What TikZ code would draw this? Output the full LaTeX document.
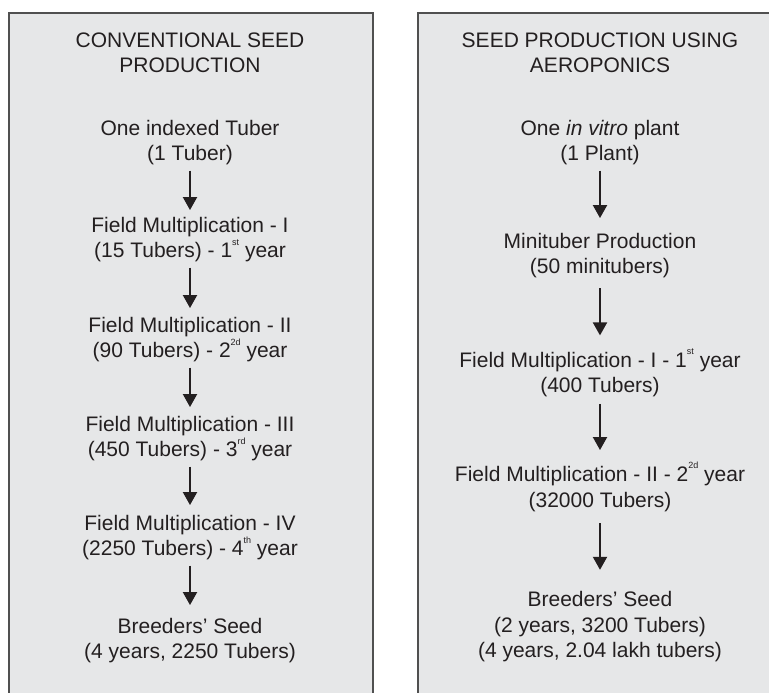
\documentclass[tikz,border=0pt]{standalone}
\usepackage{fontspec}
\setmainfont{Liberation Sans}
\usepackage{tikz}
\usetikzlibrary{arrows.meta}

\definecolor{panelgray}{HTML}{E6E7E8}
\definecolor{inkgray}{HTML}{231F20}
\definecolor{framegray}{HTML}{505050}

\newcommand{\ordsup}[1]{\raisebox{1.15ex}{\fontsize{9}{9}\selectfont #1}}

\tikzset{
  stage/.style={align=center, inner sep=5pt, text=inkgray, font=\fontsize{21}{25.5}\selectfont},
  panel/.style={fill=panelgray, draw=framegray, line width=1.6pt},
  flow/.style={draw=inkgray, line width=2pt, -{Triangle[width=14pt,length=13pt]}},
}

\begin{document}
\begin{tikzpicture}[x=1pt,y=-1pt]
    \useasboundingbox (0,0) rectangle (769,693);
    \fill[white] (0,0) rectangle (769,693);
    \clip (0,0) rectangle (769,693);

    % panels
    \draw[panel] (9,13) rectangle (373,710);
    \draw[panel] (418,13) rectangle (790,710);

    % conventional
    \node[stage] (ct) at (190,52.8) {CONVENTIONAL SEED\\PRODUCTION};
    \node[stage] (c1) at (190,142.8) {One indexed Tuber\\(1 Tuber)};
    \node[stage] (c2) at (190,239.8) {Field Multiplication - I\\(15 Tubers) - 1\ordsup{st} year};
    \node[stage] (c3) at (190,339.8) {Field Multiplication - II\\(90 Tubers) - 2\ordsup{2d} year};
    \node[stage] (c4) at (190,438.8) {Field Multiplication - III\\(450 Tubers) - 3\ordsup{rd} year};
    \node[stage] (c5) at (190,537.8) {Field Multiplication - IV\\(2250 Tubers) - 4\ordsup{th} year};
    \node[stage] (c6) at (190,640.8) {Breeders' Seed\\(4 years, 2250 Tubers)};

    \draw[flow, shorten >=2pt] (c1) -- (c2);
    \draw[flow, shorten >=4pt] (c2) -- (c3);
    \draw[flow, shorten >=4pt] (c3) -- (c4);
    \draw[flow, shorten >=5pt] (c4) -- (c5);
    \draw[flow, shorten >=8pt] (c5) -- (c6);

    % aeroponics
    \node[stage] (at) at (600,52.8) {SEED PRODUCTION USING\\AEROPONICS};
    \node[stage] (a1) at (600,142.8) {One \textit{in vitro} plant\\(1 Plant)};
    \node[stage] (a2) at (600,255.8) {Minituber Production\\(50 minitubers)};
    \node[stage] (a3) at (600,372.8) {Field Multiplication - I - 1\ordsup{st} year\\(400 Tubers)};
    \node[stage] (a4) at (600,486.8) {Field Multiplication - II - 2\ordsup{2d} year\\(32000 Tubers)};
    \node[stage] (a5) at (600,627) {Breeders' Seed\\(2 years, 3200 Tubers)\\(4 years, 2.04 lakh tubers)};

    \draw[flow, shorten >=10pt] (a1) -- (a2);
    \draw[flow, shorten <=4.6pt, shorten >=8pt] (a2) -- (a3);
    \draw[flow, shorten <=1.6pt, shorten >=7pt] (a3) -- (a4);
    \draw[flow, shorten <=6.6pt, shorten >=16.7pt] (a4) -- (a5);
\end{tikzpicture}
\end{document}
